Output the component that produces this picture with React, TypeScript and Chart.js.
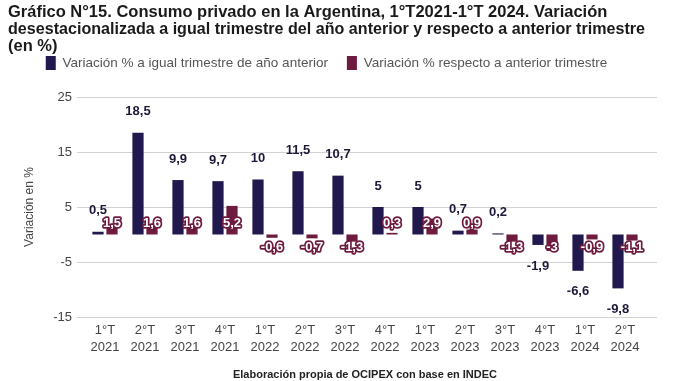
import React, { useEffect, useRef } from "react";
import { Chart, registerables } from "chart.js";

Chart.register(...registerables);

const quarters = ["1°T", "2°T", "3°T", "4°T", "1°T", "2°T", "3°T", "4°T", "1°T", "2°T", "3°T", "4°T", "1°T", "2°T"];
const years = ["2021", "2021", "2021", "2021", "2022", "2022", "2022", "2022", "2023", "2023", "2023", "2023", "2024", "2024"];
const interanual = [0.5, 18.5, 9.9, 9.7, 10, 11.5, 10.7, 5, 5, 0.7, 0.2, -1.9, -6.6, -9.8];
const trimestral = [1.5, 1.6, 1.6, 5.2, -0.6, -0.7, -1.3, 0.3, 2.9, 0.9, -1.3, -3, -0.9, -1.1];
const yTicks = [-15, -5, 5, 15, 25];

const titleLines = [
  "Gráfico N°15. Consumo privado en la Argentina, 1°T2021-1°T 2024. Variación",
  "desestacionalizada a igual trimestre del año anterior y respecto a anterior trimestre",
  "(en %)",
];
const seriesNames = [
  "Variación % a igual trimestre de año anterior",
  "Variación % respecto a anterior trimestre",
];
const yTitle = "Variación en %";
const xTitle = "Elaboración propia de OCIPEX con base en INDEC";

const NAVY = "#21184d";
const MAROON = "#6d1b3f";
const FONT = "'Liberation Sans', Arial, sans-serif";

const fmt = (v: number) => String(v).replace(".", ",");

const gridPlugin = {
  id: "customGrid",
  beforeDatasetsDraw(chart: any) {
    const { ctx, chartArea, scales } = chart;
    const y = scales.y;
    ctx.save();
    ctx.strokeStyle = "#d2d2d2";
    ctx.lineWidth = 1;
    yTicks.forEach((t) => {
      const py = Math.round(y.getPixelForValue(t)) + 0.5;
      ctx.beginPath();
      ctx.moveTo(chartArea.left - 8, py);
      ctx.lineTo(chartArea.right + 12, py);
      ctx.stroke();
    });
    ctx.restore();
  },
};

const labelPlugin = {
  id: "barLabels",
  afterDatasetsDraw(chart: any) {
    const { ctx, scales } = chart;
    const zero = scales.y.getPixelForValue(0);
    ctx.save();
    ctx.textAlign = "center";
    ctx.textBaseline = "middle";
    ctx.font = `bold 13px ${FONT}`;
    const m0 = chart.getDatasetMeta(0);
    m0.data.forEach((el: any, i: number) => {
      const v = interanual[i];
      const py = v >= 0 ? el.y - 21 : el.y + 21;
      ctx.fillStyle = "#1c1838";
      ctx.fillText(fmt(v), el.x, py);
    });
    const m1 = chart.getDatasetMeta(1);
    ctx.lineJoin = "round";
    m1.data.forEach((el: any, i: number) => {
      const v = trimestral[i];
      const py = v >= 0 ? zero - 11.5 : zero + 12.5;
      ctx.strokeStyle = MAROON;
      ctx.lineWidth = 3.5;
      ctx.strokeText(fmt(v), el.x, py);
      ctx.fillStyle = "#ffffff";
      ctx.fillText(fmt(v), el.x, py);
    });
    ctx.restore();
  },
};

export default function App() {
  const ref = useRef<HTMLCanvasElement>(null);
  useEffect(() => {
    if (!ref.current) return;
    const labels = quarters.map((q, i) => [q, years[i]]);
    const chart = new Chart(ref.current, {
      type: "bar",
      data: {
        labels,
        datasets: [
          {
            label: seriesNames[0],
            data: interanual,
            backgroundColor: NAVY,
            borderColor: NAVY,
            borderWidth: 0,
            categoryPercentage: 0.7,
            barPercentage: 0.8,
          },
          {
            label: seriesNames[1],
            data: trimestral,
            backgroundColor: MAROON,
            borderColor: MAROON,
            borderWidth: 0,
            categoryPercentage: 0.7,
            barPercentage: 0.8,
          },
        ],
      },
      options: {
        responsive: false,
        animation: false,
        layout: { padding: { left: 8, right: 34, top: 0, bottom: 0 } },
        plugins: {
          title: {
            display: true,
            text: titleLines,
            align: "start",
            color: "#1a1a1a",
            font: { family: FONT, size: 16.5, weight: "bold", lineHeight: 1.03 },
            padding: { top: 3.5, bottom: -17.5 },
          },
          subtitle: {
            display: true,
            text: " ",
            weight: 500,
            font: { size: 1, lineHeight: 1 },
            padding: { top: 16, bottom: 0 },
          } as any,
          legend: {
            display: true,
            position: "top",
            align: "center",
            labels: {
              boxWidth: 10,
              boxHeight: 14,
              padding: 19,
              color: "#555555",
              font: { family: FONT, size: 13.5 },
            },
          },
          tooltip: { enabled: false },
        },
        scales: {
          x: {
            grid: { display: false, drawTicks: false },
            border: { display: false },
            ticks: {
              color: "#444444",
              padding: 5,
              maxRotation: 0,
              autoSkip: false,
              font: { family: FONT, size: 13, lineHeight: 1.3 },
            },
            title: {
              display: true,
              text: xTitle,
              color: "#222222",
              font: { family: FONT, size: 11, weight: "bold", lineHeight: 1.2 },
              padding: { top: 4, bottom: -0.6 },
            },
            afterFit: (s: any) => {
              s.height = 64;
            },
          },
          y: {
            min: -15,
            max: 25,
            grid: { display: false, drawTicks: false },
            border: { display: false },
            ticks: {
              stepSize: 10,
              color: "#444444",
              padding: 13,
              font: { family: FONT, size: 13 },
            },
            afterBuildTicks: (s: any) => {
              s.ticks = yTicks.map((v) => ({ value: v }));
            },
            title: {
              display: true,
              text: yTitle,
              color: "#444444",
              font: { family: FONT, size: 12, lineHeight: 1.2 },
              padding: { top: 14.8, bottom: 0 },
            },
            afterFit: (s: any) => {
              s.width = 77;
            },
          },
        },
      },
      plugins: [gridPlugin, labelPlugin],
    });
    return () => chart.destroy();
  }, []);
  return (
    <div style={{ position: "fixed", left: 0, top: 0, width: 679, height: 381, background: "#fff" }}>
      <canvas ref={ref} width={679} height={381} />
    </div>
  );
}
